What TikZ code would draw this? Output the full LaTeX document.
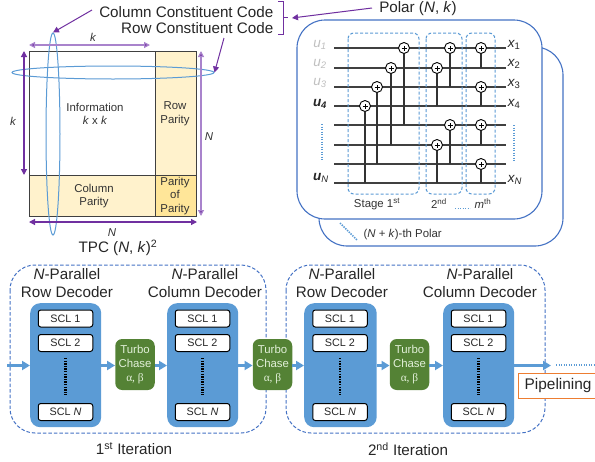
\documentclass[tikz,border=0pt]{standalone}
\usepackage{fontspec}
\setmainfont{Liberation Sans}
\newfontfamily\greekf{Liberation Serif}
\usetikzlibrary{arrows.meta,calc,shapes.geometric}
\definecolor{purp}{HTML}{7030A0}
\definecolor{lpurp}{HTML}{A983CC}
\definecolor{blu}{HTML}{5B9BD5}
\definecolor{dblu}{HTML}{4472C4}
\definecolor{grn}{HTML}{548235}
\definecolor{lgrn}{HTML}{E2F0D9}
\definecolor{par}{HTML}{FFF2CC}
\definecolor{ppar}{HTML}{FFE699}
\definecolor{org}{HTML}{ED7D31}
\definecolor{wire}{HTML}{404040}
\newcommand{\fL}{\fontsize{15.2}{18}\selectfont}
\newcommand{\fM}{\fontsize{11.4}{13.6}\selectfont}
\newcommand{\fS}{\fontsize{10.8}{13}\selectfont}
\tikzset{
  txtL/.style={font=\fL,inner sep=0pt,text=black!85,align=center},
  txtM/.style={font=\fM,inner sep=0pt,text=black!80,align=center},
  cell/.style={draw=black!75,line width=1.2pt,inner sep=0pt,align=center,font=\fM,text=black!75},
  purparrow/.style={draw=purp,line width=1pt,-{Triangle[length=6pt,width=6pt]}},
  dimarrow/.style={draw=purp,line width=1.2pt,{Triangle[length=6pt,width=6pt]}-{Triangle[length=6pt,width=6pt]}},
  ldimarrow/.style={dimarrow,draw=lpurp,{Triangle[length=6pt,width=6pt,fill=purp]}-{Triangle[length=6pt,width=6pt,fill=purp]}},
  codering/.style={draw=blu,line width=1pt,ellipse},
  stagebox/.style={draw=blu,line width=1pt,dash pattern=on 3pt off 2pt,rounded corners=6pt},
  iterbox/.style={draw=dblu,line width=1pt,dash pattern=on 3.5pt off 2pt,rounded corners=25pt},
  polarbox/.style={draw=dblu,line width=1.1pt,fill=white,rounded corners=28pt},
  wireline/.style={draw=wire,line width=1.2pt},
  xorgate/.style={circle,draw=black,fill=white,line width=0.9pt,minimum size=11pt,inner sep=0pt,
    path picture={\draw[line width=0.7pt,black] ([xshift=-2.5pt]path picture bounding box.center)--([xshift=2.5pt]path picture bounding box.center);
    \draw[line width=0.7pt,black] ([yshift=-2.5pt]path picture bounding box.center)--([yshift=2.5pt]path picture bounding box.center);}},
  drop/.style={draw=black!80,line width=1.2pt},
  decoder/.style={draw=none,fill=blu,rounded corners=10pt,inner sep=0pt},
  sclbox/.style={draw=black,fill=white,line width=1pt,rounded corners=2.5pt,inner sep=0pt,font=\fS,text=black!85,minimum width=54.5pt,minimum height=17pt},
  turbo/.style={fill=grn,rounded corners=7pt,inner sep=0pt,font=\fM,text=lgrn,align=center,minimum width=39.5pt,minimum height=51pt},
  flow/.style={draw=blu,line width=2.4pt,-{Triangle[length=8pt,width=9pt]}},
  vdots/.style={draw=black,line width=2.3pt,dash pattern=on 1.4pt off 1.2pt},
  bludots/.style={draw=blu,line width=1.5pt,dash pattern=on 1.4pt off 1.1pt},
}
\begin{document}
\begin{tikzpicture}[x=1pt,y=-1pt]
\useasboundingbox (0,0) rectangle (595,461);
% === product code matrix
\node[cell,fill=white,minimum width=126pt,minimum height=124pt,anchor=north west] (info) at (29,51) {};
\node[cell,fill=par,minimum width=41pt,minimum height=124pt,anchor=north west] (rowp) at (155,51) {};
\node[cell,fill=par,minimum width=126pt,minimum height=41pt,anchor=north west] (colp) at (29,175) {};
\node[cell,fill=ppar,minimum width=41pt,minimum height=41pt,anchor=north west] (pp) at (155,175) {};
\node[txtM] (infot) at (95,114) {Information\\\textit{k} x \textit{k}};
\node[txtM] (rowpt) at (175,114) {Row\\Parity};
\node[txtM] (colpt) at (94,196) {Column\\Parity};
\node[txtM] (ppt) at (175,196) {Parity\\of\\Parity};
\node[codering,minimum width=14pt,minimum height=202pt,inner sep=0pt] (colring) at (53,134) {};
\node[codering,minimum width=202pt,minimum height=13pt,inner sep=0pt] (rowring) at (113,72.5) {};
\coordinate (ka) at (29,45); \coordinate (kb) at (150,45);
\coordinate (la) at (24,51); \coordinate (lb) at (24,175);
\coordinate (na) at (201,51); \coordinate (nb) at (201,216);
\coordinate (ma) at (29,222); \coordinate (mb) at (197,222);
\draw[ldimarrow] (ka) -- (kb);
\draw[dimarrow] (la) -- (lb);
\draw[ldimarrow] (na) -- (nb);
\draw[dimarrow] (ma) -- (mb);
\node[txtM,font=\fontsize{11.4}{13}\itshape] (kt) at (93,37) {k};
\node[txtM,font=\fontsize{11.4}{13}\itshape] (kl) at (13,121) {k};
\node[txtM,font=\fontsize{11.4}{13}\itshape] (nr) at (209,137) {N};
\node[txtM,font=\fontsize{11.4}{13}\itshape] (nbm) at (112,233) {N};
\node[txtL] (tpc) at (118,248) {TPC (\textit{N}, \textit{k})\textsuperscript{2}};
\node[txtL,anchor=east] (cc) at (273.5,12) {Column Constituent Code};
\node[txtL,anchor=east] (rc) at (273.5,28) {Row Constituent Code};
\coordinate (cca) at (92,10);
\coordinate (rca) at (224,38);
\draw[purparrow] (cca) -- (colring.north);
\draw[purparrow] (rca) -- (rowring.east);
\coordinate (bt) at (278,1.5); \coordinate (bb) at (278,34);
\draw[draw=purp,line width=0.9pt] (bt) -- (283,1.5) -- (283,34) -- (bb);
\coordinate (bm) at (283,17);
\coordinate (bmr) at (288,17);
\draw[draw=purp,line width=0.9pt] (bm) -- (bmr);
% === polar
\node[txtL] (polar) at (418,9) {Polar (\textit{N}, \textit{k})};
\coordinate (pa) at (372,8);
\coordinate (pb) at (292,18);
\draw[purparrow] (pa) -- (pb);
\draw[polarbox] (319,47) rectangle (563,246);
\draw[polarbox] (297,20) rectangle (542,219);
\foreach \i/\y in {1/48,2/68,3/87,4/106,5/125,6/145,7/164,8/183}{
  \coordinate (wl\i) at (334,\y);
  \coordinate (wr\i) at (506,\y);
  \draw[wireline] (wl\i) -- (wr\i);
}
\draw[stagebox] (348,33) rectangle (419,194);
\draw[stagebox] (426,33) rectangle (462,194);
\draw[stagebox] (466,33) rectangle (495,194);
\foreach \n/\x/\a/\b in {a/404/1/5,b/391/2/6,c/377/3/7,d/365/4/8,e/450/1/3,f/437/2/4,g/450/5/7,h/437/6/8,i/481/1/2,j/481/3/4,k/481/5/6,l/481/7/8}{
  \node[xorgate] (x\n) at (\x,0 |- wl\a) {};
  \draw[drop] (x\n.south) -- (x\n.south |- wl\b);
}
\foreach \i/\y/\t in {1/45/u\textsubscript{1},2/64/u\textsubscript{2},3/83/u\textsubscript{3}}{
  \node[font=\fontsize{13.5}{15}\itshape\selectfont,text=black!25,inner sep=0pt] (ul\i) at (320,\y) {\t};
}
\node[font=\fontsize{13.5}{15}\bfseries\itshape\selectfont,text=black!85,inner sep=0pt] (ul4) at (320,104) {u\textsubscript{4}};
\node[font=\fontsize{13.5}{15}\bfseries\itshape\selectfont,text=black!85,inner sep=0pt] (ulN) at (321,178) {u\textsubscript{\mdseries\itshape N}};
\foreach \i/\y/\t in {1/45/1,2/64/2,3/84/3,4/104/4}{
  \node[font=\fontsize{13.5}{15}\itshape\selectfont,text=black!85,inner sep=0pt] (xl\i) at (514,\y) {x\textsubscript{\upshape\t}};
}
\node[font=\fontsize{13.5}{15}\itshape\selectfont,text=black!85,inner sep=0pt] (xlN) at (515,180) {x\textsubscript{N}};
\coordinate (d1a) at (322,124); \coordinate (d1b) at (322,161);
\coordinate (d2a) at (514,125); \coordinate (d2b) at (514,162);
\draw[bludots] (d1a) -- (d1b);
\draw[bludots] (d2a) -- (d2b);
\node[txtM] (st1) at (377,204) {Stage 1\textsuperscript{st}};
\node[txtM] (st2) at (439,204) {2\textsuperscript{nd}};
\node[txtM] (stm) at (483,204) {\textit{m}\textsuperscript{th}};
\coordinate (sda) at (455,208.5); \coordinate (sdb) at (470,208.5);
\draw[bludots] (sda) -- (sdb);
\coordinate (pda) at (340,223); \coordinate (pdb) at (357,240);
\draw[bludots] (pda) -- (pdb);
\node[txtM,anchor=west] (nk) at (363.5,235) {(\textit{N} + \textit{k})-th Polar};
% === decoding pipeline
\draw[iterbox] (10,265) rectangle (266,433);
\draw[iterbox] (286,265) rectangle (545,433);
\foreach \n/\xa/\w/\cx in {A/30/71/65.5,B/167/71/202.5,C/304/72.5/340,D/443/71/478.5}{
  \node[decoder,minimum width=\w pt,minimum height=124pt,anchor=north west] (dec\n) at (\xa,303) {};
  \node[sclbox] (scl\n1) at (\cx,318.5) {SCL 1};
  \node[sclbox] (scl\n2) at (\cx,343) {SCL 2};
  \node[sclbox] (scl\n3) at (\cx,412) {SCL \textit{N}};
  \coordinate (v\n a) at (\cx,358); \coordinate (v\n b) at (\cx,395);
  \draw[vdots] (v\n a) -- (v\n b);
}
\foreach \n/\cx/\t in {A/67/Row,B/205/Column,C/342/Row,D/480/Column}{
  \node[txtL] (head\n) at (\cx,283.5) {\textit{N}-Parallel\\\t\ Decoder};
}
\foreach \n/\cx in {A/135,B/272.5,C/409.5}{
  \node[turbo] (tc\n) at (\cx,364.5) {Turbo\\Chase\\{\greekf α, β}};
}
\coordinate (inp) at (7,365.5);
\coordinate (out) at (551,365.5);
\coordinate (dota) at (556,365);
\coordinate (dotb) at (595,365);
\draw[flow] (inp) -- (inp -| decA.west);
\draw[flow] (decA.east |- inp) -- (inp -| tcA.west);
\draw[flow] (tcA.east |- inp) -- (inp -| decB.west);
\draw[flow] (decB.east |- inp) -- (inp -| tcB.west);
\draw[flow] (tcB.east |- inp) -- (inp -| decC.west);
\draw[flow] (decC.east |- inp) -- (inp -| tcC.west);
\draw[flow] (tcC.east |- inp) -- (inp -| decD.west);
\draw[flow] (decD.east |- inp) -- (out);
\draw[bludots,line width=1.8pt] (dota) -- (dotb);
\node[draw=org,fill=white,line width=1.1pt,minimum width=80pt,minimum height=24.5pt,anchor=west,inner sep=0pt] (pipe) at (518,386) {};
\node[txtL,anchor=west,font=\fontsize{15.4}{18}\selectfont] (pipet) at (524.5,386) {Pipelining};
\node[txtL] (it1) at (134,449) {1\textsuperscript{st} Iteration};
\node[txtL] (it2) at (408,449) {2\textsuperscript{nd} Iteration};
\end{tikzpicture}
\end{document}
